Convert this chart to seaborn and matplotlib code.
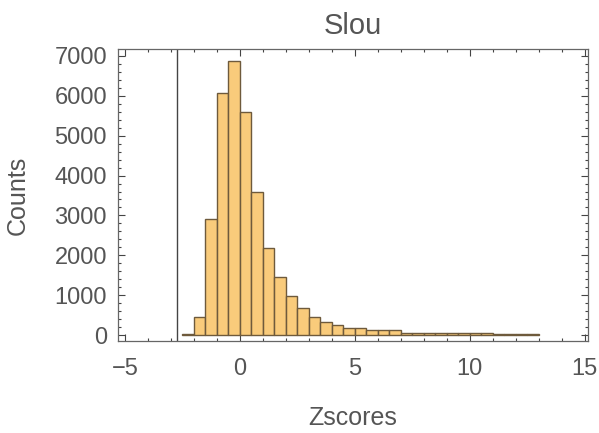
import numpy as np
import pandas as pd
import matplotlib
matplotlib.use('Agg')
import matplotlib.pyplot as plt
import seaborn as sns
from matplotlib.ticker import MultipleLocator

# bin left edges (width 0.5) and counts
bin_left = [-2.5, -2.0, -1.5, -1.0, -0.5, 0.0, 0.5, 1.0, 1.5, 2.0, 2.5, 3.0, 3.5, 4.0,
            4.5, 5.0, 5.5, 6.0, 6.5, 7.0, 7.5, 8.0, 8.5, 9.0, 9.5, 10.0, 10.5,
            11.0, 11.5, 12.0, 12.5]
counts = [30, 460, 2910, 6080, 6880, 5600, 3600, 2190, 1450, 990, 670, 460, 320, 250,
          170, 170, 120, 120, 120, 60, 60, 60, 60, 60, 60, 60, 60,
          20, 20, 20, 20]
bin_width = 0.5
threshold = -2.75

df = pd.DataFrame({'z': np.array(bin_left) + bin_width / 2, 'n': counts})
edges = [float(b) for b in bin_left] + [bin_left[-1] + bin_width]

sns.set_style('ticks')
plt.rcParams['font.family'] = ['Liberation Sans', 'DejaVu Sans']
grey = '#555555'

fig = plt.figure(figsize=(5.99, 4.33), dpi=100)
ax = fig.add_axes([118 / 599, 1 - 341 / 433, 470 / 599, 292 / 433])

sns.histplot(data=df, x='z', weights='n', bins=edges, ax=ax,
             color='#f8c264', alpha=0.85, edgecolor='#6e5a3c', linewidth=1.0)
ax.axvline(threshold, color='#444444', lw=1.0)

ax.set_xlim(-5.3, 15.15)
ax.set_ylim(-150, 7175)
ax.xaxis.set_major_locator(MultipleLocator(5))
ax.xaxis.set_minor_locator(MultipleLocator(1))
ax.yaxis.set_major_locator(MultipleLocator(1000))
ax.yaxis.set_minor_locator(MultipleLocator(200))
ax.tick_params(which='both', direction='in', top=True, right=True,
               color='#444444', labelcolor=grey, labelsize=17, width=0.8)
ax.tick_params(which='major', length=5)
ax.tick_params(which='minor', length=2.5)
ax.tick_params(axis='x', pad=12)
ax.tick_params(axis='y', pad=8)
for s in ax.spines.values():
    s.set_color('#666666')
    s.set_linewidth(0.9)

ax.set_title('Slou', color=grey, fontsize=21, pad=11)
ax.set_xlabel('Zscores', color=grey, fontsize=18, labelpad=19)
ax.set_ylabel('Counts', color=grey, fontsize=18, labelpad=18)

fig.savefig('out.png', dpi=100)
